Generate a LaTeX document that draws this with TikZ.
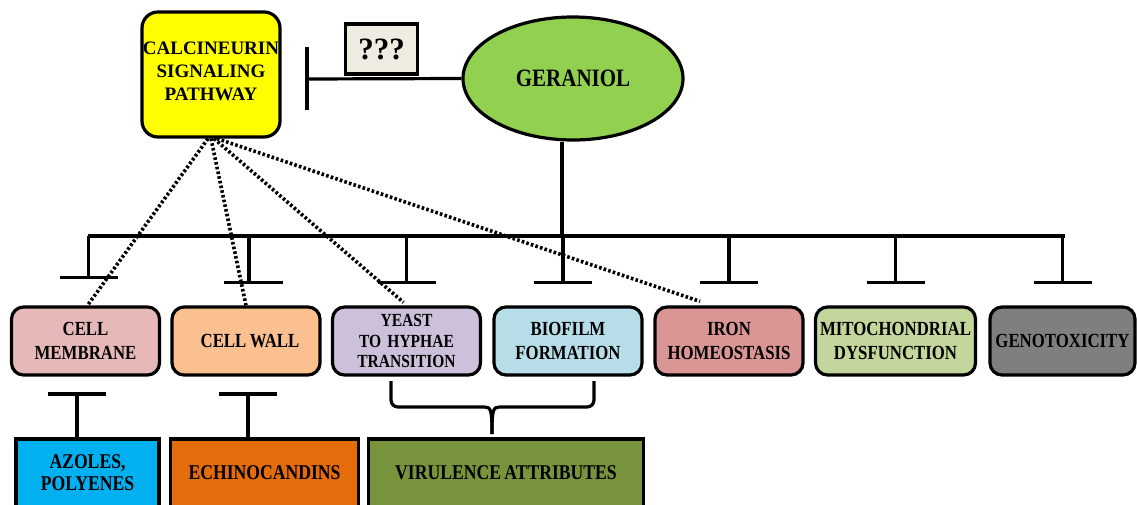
\documentclass[tikz,border=0pt]{standalone}
\usepackage{fontspec}
\setmainfont{Liberation Serif}
\newfontfamily\narrowfont{Liberation Serif}[FakeStretch=0.84,WordSpace=0.75]
\usetikzlibrary{shapes.geometric}
\definecolor{calyellow}{HTML}{FFFF00}
\definecolor{unknownbg}{HTML}{EEECE1}
\definecolor{gergreen}{HTML}{92D050}
\definecolor{memcol}{HTML}{E6B9B8}
\definecolor{wallcol}{HTML}{FAC090}
\definecolor{yeastcol}{HTML}{CCC0DA}
\definecolor{biocol}{HTML}{B7DEE8}
\definecolor{ironcol}{HTML}{D99694}
\definecolor{mitocol}{HTML}{C3D69B}
\definecolor{genocol}{HTML}{7F7F7F}
\definecolor{azcol}{HTML}{00B0F0}
\definecolor{echcol}{HTML}{E46C0A}
\definecolor{vircol}{HTML}{77933C}
\begin{document}
\begin{tikzpicture}[x=1pt,y=-1pt]
  \useasboundingbox (0,0) rectangle (1137,505);
  \tikzstyle{targetbox}=[rectangle,draw,line width=3.2pt,rounded corners=12pt,minimum
  width=148pt,minimum height=68pt,inner sep=0pt,text width=148pt,align=center,
  font=\narrowfont\bfseries\fontsize{20}{23.5}\selectfont]
  \tikzstyle{drugbox}=[rectangle,draw,line width=3.2pt,minimum height=68pt,inner
  sep=0pt,align=center,font=\narrowfont\bfseries\fontsize{21}{22}\selectfont]
  \tikzstyle{inhib}=[draw,line width=3.2pt]
  \tikzstyle{calclink}=[draw,line width=3.6pt,dash pattern=on 2.6pt off 2.2pt]
  \node[rectangle,draw,line width=3.2pt,rounded corners=16pt,fill=calyellow,minimum
  width=138pt,minimum height=125pt,inner sep=0pt,align=center](cal) at (211,74.5){};
  \node[align=center,inner sep=0pt,font=\bfseries\fontsize{19}{23}\selectfont](caltext)
  at (211,71){CALCINEURIN\\SIGNALING\\PATHWAY};
  \node[rectangle,draw,line width=3.2pt,fill=unknownbg,minimum width=72pt,minimum
  height=50pt,font=\bfseries\fontsize{31}{31}\selectfont](qq) at (381.5,49){???};
  \node[ellipse,draw,line width=3.2pt,fill=gergreen,minimum width=220pt,minimum
  height=123pt,font=\narrowfont\bfseries\fontsize{25}{25}\selectfont](ger) at (573,78.5){GERANIOL};
  \node[targetbox,fill=memcol](mem) at (85.5,341){CELL\\MEMBRANE};
  \node[targetbox,fill=wallcol](wall) at (246,341){\hspace*{8pt}CELL\hspace{3.5pt}WALL};
  \node[targetbox,fill=yeastcol,font=\narrowfont\bfseries\fontsize{18.5}{20.5}\selectfont](yeast) at (406.5,341){YEAST\\TO HYPHAE\\TRANSITION};
  \node[targetbox,fill=biocol](bio) at (568,341){BIOFILM\\FORMATION};
  \node[targetbox,fill=ironcol](iron) at (729,341){IRON\\HOMEOSTASIS};
  \node[targetbox,fill=mitocol,minimum width=160pt,text width=160pt](mito) at (895.5,341){MITOCHONDRIAL\\DYSFUNCTION};
  \node[targetbox,fill=genocol,minimum width=145pt,text width=145pt](geno) at (1062.5,341){GENOTOXICITY};
  \node[drugbox,fill=azcol,minimum width=143pt](az) at (87.5,473){AZOLES,\\POLYENES};
  \node[drugbox,fill=echcol,minimum width=188pt](ech) at (264.5,473){ECHINOCANDINS};
  \node[drugbox,fill=vircol,minimum width=275pt](vir) at (506,473){VIRULENCE ATTRIBUTES};
  % geraniol -| calcineurin
  \coordinate (calbar) at (307,79);
  \path[inhib] (ger.west) -- (calbar);
  \path[inhib] ([yshift=32pt]calbar) -- ([yshift=-31pt]calbar);
  % geraniol to the targets
  \coordinate (busL) at (88,236);
  \coordinate (busR) at (1065,236);
  \path[inhib] ([xshift=-11pt]ger.south) -- ([xshift=-11pt]ger.south |- busL);
  \path[inhib] (busL) -- (busR);
  \path[inhib] ([xshift=3pt]mem.north |- busL) -- ([xshift=3pt,yshift=28pt]mem.north);
  \path[inhib] ([xshift=-26pt,yshift=28pt]mem.north) -- ([xshift=32pt,yshift=28pt]mem.north);
  \path[inhib] ([xshift=3pt]wall.north |- busL) -- ([xshift=3pt,yshift=23pt]wall.north);
  \path[inhib] ([xshift=-22pt,yshift=23pt]wall.north) -- ([xshift=37pt,yshift=23pt]wall.north);
  \path[inhib] (yeast.north |- busL) -- ([yshift=23pt]yeast.north);
  \path[inhib] ([xshift=-29pt,yshift=23pt]yeast.north) -- ([xshift=29pt,yshift=23pt]yeast.north);
  \path[inhib] ([xshift=-5pt]bio.north |- busL) -- ([xshift=-5pt,yshift=23pt]bio.north);
  \path[inhib] ([xshift=-34pt,yshift=23pt]bio.north) -- ([xshift=24pt,yshift=23pt]bio.north);
  \path[inhib] (iron.north |- busL) -- ([yshift=23pt]iron.north);
  \path[inhib] ([xshift=-29pt,yshift=23pt]iron.north) -- ([xshift=29pt,yshift=23pt]iron.north);
  \path[inhib] (mito.north |- busL) -- ([yshift=23pt]mito.north);
  \path[inhib] ([xshift=-29pt,yshift=23pt]mito.north) -- ([xshift=29pt,yshift=23pt]mito.north);
  \path[inhib] (geno.north |- busL) -- ([yshift=23pt]geno.north);
  \path[inhib] ([xshift=-29pt,yshift=23pt]geno.north) -- ([xshift=29pt,yshift=23pt]geno.north);
  % calcineurin links
  \path[calclink] ([xshift=-3pt]cal.south) -- ([xshift=2pt]mem.north);
  \path[calclink] (cal.south) -- (wall.north);
  \path[calclink] ([xshift=3pt]cal.south) -- ([xshift=-3pt,yshift=3pt]yeast.north);
  \path[calclink] ([xshift=6pt]cal.south) -- ([xshift=-29pt,yshift=4pt]iron.north);
  % antifungal drugs
  \coordinate (azbar) at (77,394);
  \path[inhib] (azbar) -- (azbar |- az.north);
  \path[inhib] ([xshift=-29pt]azbar) -- ([xshift=29pt]azbar);
  \coordinate (echbar) at (248,394);
  \path[inhib] (echbar) -- (echbar |- ech.north);
  \path[inhib] ([xshift=-29pt]echbar) -- ([xshift=29pt]echbar);
  % brace
  \coordinate (braceL) at (391,381);
  \coordinate (braceR) at (594,381);
  \coordinate (bracetip) at (492,434);
  \path[inhib,rounded corners=7pt] (braceL) |- (485,407);
  \path[inhib,rounded corners=7pt] (braceR) |- (499,407);
  \path[inhib] (485,407) .. controls (491,407) and (492,411) .. (bracetip);
  \path[inhib] (499,407) .. controls (493,407) and (492,411) .. (bracetip);
\end{tikzpicture}
\end{document}
